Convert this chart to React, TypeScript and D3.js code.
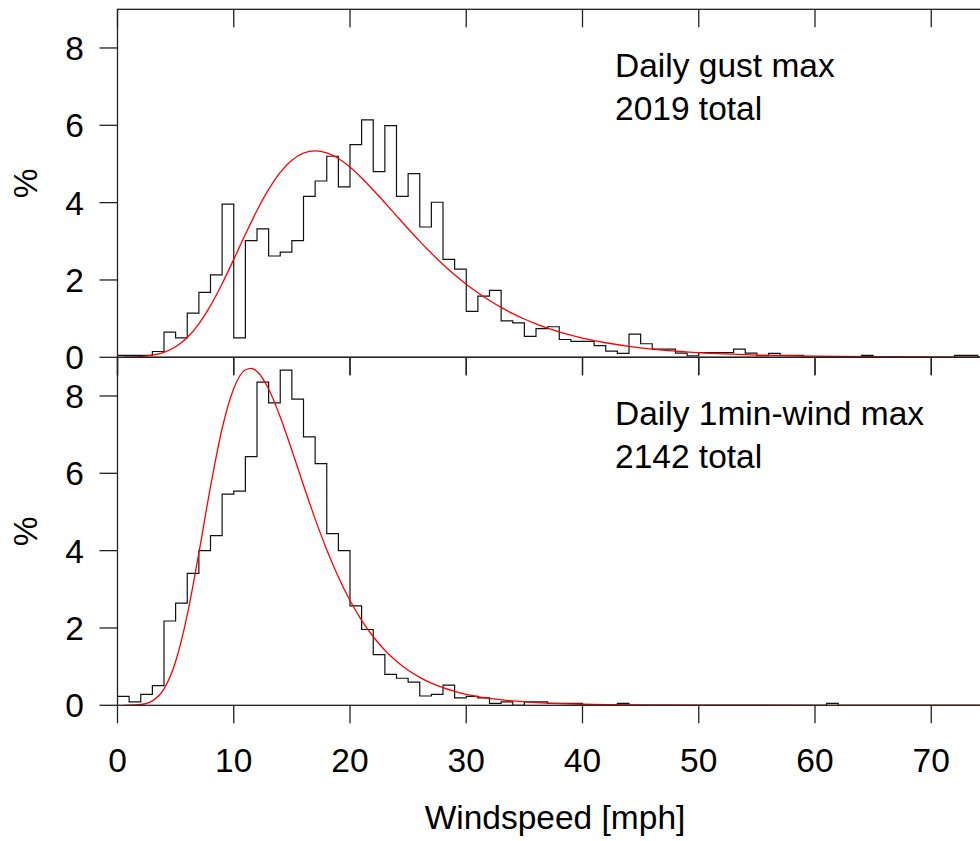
import React from 'react';
import * as d3 from 'd3';

// ---- data ----
const binEdgesMax = 75;
const xTicks = [0, 10, 20, 30, 40, 50, 60, 70];
const yTicks = [0, 2, 4, 6, 8];

// percentage of days per 1-mph bin, bins starting at 0,1,2,...
const gustPct = [
  0.05, 0.05, 0.05, 0.15, 0.65, 0.5, 1.14, 1.68, 2.13, 3.96,
  0.5, 3.02, 3.32, 2.62, 2.72, 3.02, 4.16, 4.56, 5.2, 4.41,
  5.5, 6.14, 4.8, 5.99, 4.16, 4.75, 3.37, 4.01, 2.53, 2.28,
  1.19, 1.58, 1.73, 0.94, 0.89, 0.54, 0.74, 0.79, 0.46, 0.41,
  0.41, 0.3, 0.16, 0.1, 0.6, 0.35, 0.21, 0.21, 0.11, 0.04,
  0.12, 0.12, 0.12, 0.21, 0.11, 0.04, 0.1, 0.05, 0.05, 0.0,
  0.0, 0.0, 0.0, 0.0, 0.05, 0.0, 0.0, 0.0, 0.0, 0.0,
  0.0, 0.0, 0.05, 0.05, 0.0,
];
const windPct = [
  0.23, 0.09, 0.28, 0.51, 2.18, 2.64, 3.41, 4.0, 4.39, 5.46,
  5.54, 6.43, 8.36, 7.82, 8.67, 7.92, 6.94, 6.25, 4.44, 4.0,
  2.57, 1.96, 1.31, 0.8, 0.7, 0.6, 0.24, 0.28, 0.52, 0.19,
  0.23, 0.19, 0.05, 0.09, 0.0, 0.09, 0.09, 0.05, 0.05, 0.05,
  0.0, 0.0, 0.0, 0.05, 0.0, 0.0, 0.0, 0.0, 0.0, 0.0,
  0.0, 0.0, 0.0, 0.0, 0.0, 0.0, 0.0, 0.0, 0.0, 0.0,
  0.0, 0.05, 0.0, 0.0, 0.0, 0.0, 0.0, 0.0, 0.0, 0.0,
  0.0, 0.0, 0.0, 0.0, 0.0,
];

// fitted red curves (mph, %)
const gustFitX = [
  0.5, 1, 2, 3, 4, 5, 6, 7, 8, 9, 10, 11, 12, 13, 14, 15, 16, 17, 18, 19, 20,
  21, 22, 23, 24, 25, 26, 27, 28, 29, 30, 31, 32, 33, 34, 35, 36, 37, 38, 39, 40,
  42, 44, 46, 48, 50, 55, 60, 65, 70, 75,
];
const gustFitY = [
  0.003, 0.006, 0.019, 0.054, 0.13, 0.274, 0.514, 0.866, 1.335, 1.903, 2.532,
  3.18, 3.797, 4.341, 4.784, 5.099, 5.282, 5.339, 5.286, 5.141, 4.919,
  4.639, 4.328, 3.997, 3.659, 3.324, 2.999, 2.691, 2.4, 2.134, 1.89,
  1.669, 1.469, 1.29, 1.131, 0.99, 0.864, 0.753, 0.657, 0.572, 0.498,
  0.376, 0.283, 0.212, 0.16, 0.12, 0.058, 0.028, 0.014, 0.007, 0.003,
];
const windFitX = [
  0.5, 1, 2, 3, 4, 5, 6, 7, 8, 9, 10, 11, 11.5, 12, 13, 14, 15, 16, 17, 18, 19, 20,
  21, 22, 23, 24, 25, 26, 27, 28, 29, 30, 32, 34, 36, 38, 40, 45, 50, 60, 75,
];
const windFitY = [
  0.0005, 0.002, 0.021, 0.115, 0.424, 1.133, 2.336, 3.941, 5.654, 7.159, 8.194,
  8.678, 8.716, 8.633, 8.181, 7.458, 6.595, 5.692, 4.822, 4.024, 3.318, 2.711,
  2.197, 1.773, 1.422, 1.137, 0.908, 0.722, 0.573, 0.455, 0.36, 0.285,
  0.178, 0.112, 0.069, 0.043, 0.027, 0.008, 0.003, 0.0002, 0.0,
];

const gustLabel = ['Daily gust max', '2019 total'];
const windLabel = ['Daily 1min-wind max', '2142 total'];

// ---- layout ----
const W = 980;
const H = 841;
const FONT = "'Liberation Sans', Arial, Helvetica, sans-serif";
const FS = 33.5;
const TICK = 18;

const x = d3.scaleLinear().domain([0, binEdgesMax]).range([117.5, 117.5 + 11.625 * binEdgesMax]);

type PanelProps = {
  y: d3.ScaleLinear<number, number>;
  pct: number[];
  fitX: number[];
  fitY: number[];
  label: string[];
  id: string;
};

function Panel({ y, pct, fitX, fitY, label, id }: PanelProps) {
  const [y0, y1] = y.range();
  const x0 = x.range()[0];
  const x1 = x.range()[1];
  const stepPts: [number, number][] = pct.map((v, i) => [i, v] as [number, number]);
  stepPts.push([pct.length, pct[pct.length - 1]]);
  const stepPath = d3
    .line<[number, number]>()
    .x((d) => x(d[0]))
    .y((d) => y(d[1]))
    .curve(d3.curveStepAfter)(stepPts) as string;
  const fitPts: [number, number][] = fitX.map((v, i) => [v, fitY[i]] as [number, number]);
  const fitPath = d3
    .line<[number, number]>()
    .x((d) => x(d[0]))
    .y((d) => y(d[1]))
    .curve(d3.curveMonotoneX)(fitPts) as string;
  const midY = (y0 + y1) / 2;
  return (
    <g>
      <defs>
        <clipPath id={id}>
          <rect x={x0} y={y1} width={x1 - x0} height={y0 - y1} />
        </clipPath>
      </defs>
      <g clipPath={`url(#${id})`}>
        <path d={stepPath} fill="none" stroke="#111" strokeWidth={1.2} />
        <path d={fitPath} fill="none" stroke="#ff0000" strokeWidth={1.3} />
      </g>
      {/* box */}
      <rect x={x0} y={y1} width={x1 - x0} height={y0 - y1} fill="none" stroke="#222" strokeWidth={1.3} />
      {/* x ticks: top inward, bottom outward */}
      {xTicks.map((t) => (
        <g key={'xt' + t}>
          <line x1={x(t)} x2={x(t)} y1={y1} y2={y1 + TICK} stroke="#222" strokeWidth={1.3} />
          <line x1={x(t)} x2={x(t)} y1={y0} y2={y0 + TICK} stroke="#222" strokeWidth={1.3} />
        </g>
      ))}
      {/* y ticks */}
      {yTicks.map((t) => (
        <g key={'yt' + t}>
          <line x1={x0 - TICK} x2={x0} y1={y(t)} y2={y(t)} stroke="#222" strokeWidth={1.3} />
          <text x={84} y={y(t) + 12} textAnchor="end" fontFamily={FONT} fontSize={FS} fill="#000">
            {t}
          </text>
        </g>
      ))}
      <text
        transform={`translate(37,${midY}) rotate(-90)`}
        textAnchor="middle"
        fontFamily={FONT}
        fontSize={FS}
        fill="#000"
      >
        %
      </text>
      {label.map((s, i) => (
        <text key={s} x={615} y={y1 + 68 + i * 42.7} fontFamily={FONT} fontSize={FS} fill="#000">
          {s}
        </text>
      ))}
    </g>
  );
}

export default function App() {
  const yTop = d3.scaleLinear().domain([0, 9]).range([357.3, 9.3]);
  const yBot = d3.scaleLinear().domain([0, 9]).range([705.3, 357.3]);
  return (
    <svg
      width={W}
      height={H}
      viewBox={`0 0 ${W} ${H}`}
      style={{ position: 'absolute', left: 0, top: 0, display: 'block', background: '#fff' }}
    >
      <rect x={0} y={0} width={W} height={H} fill="#fff" />
      <Panel y={yTop} pct={gustPct} fitX={gustFitX} fitY={gustFitY} label={gustLabel} id="clipTop" />
      <Panel y={yBot} pct={windPct} fitX={windFitX} fitY={windFitY} label={windLabel} id="clipBot" />
      {xTicks.map((t) => (
        <text key={'xl' + t} x={x(t)} y={771.5} textAnchor="middle" fontFamily={FONT} fontSize={FS} fill="#000">
          {t}
        </text>
      ))}
      <text x={555} y={829} textAnchor="middle" fontFamily={FONT} fontSize={FS} fill="#000">
        Windspeed [mph]
      </text>
    </svg>
  );
}
